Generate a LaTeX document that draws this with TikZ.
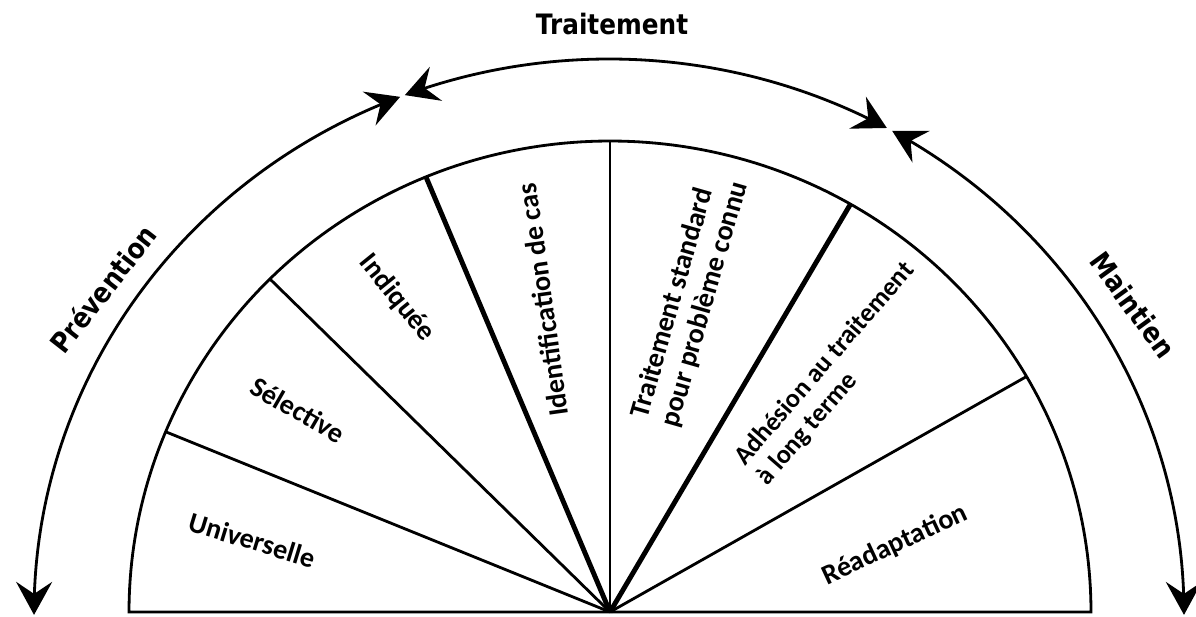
\documentclass[tikz,border=0pt]{standalone}
\usepackage{fontspec}
\usetikzlibrary{arrows.meta}
\newfontfamily\innerfont{Carlito}
\newfontfamily\outerfont{DejaVu Sans}[FakeStretch=0.88]
\begin{document}
\begin{tikzpicture}[x=0.02cm,y=0.02cm,
  thinline/.style={line width=1.6pt},
  thickline/.style={line width=2.8pt},
  arcline/.style={line width=1.6pt},
  bothtips/.style={{Stealth[length=0.66cm,width=0.72cm,inset=0.24cm]}-{Stealth[length=0.66cm,width=0.72cm,inset=0.24cm]}},
  lab/.style={font=\innerfont\bfseries\fontsize{16}{18}\selectfont, inner sep=0pt},
  olab/.style={font=\outerfont\bfseries\fontsize{16}{18}\selectfont, inner sep=0pt}]
\useasboundingbox (0,0) rectangle (1196,617);
% inner half ellipse
\coordinate (O) at (610,5);
\draw[thinline, line join=miter] plot[domain=0:180, samples=180, variable=\t] ({610+481*cos(\t)},{5+471*sin(\t)}) -- cycle;
% spokes
\coordinate (s1) at ({610+481*cos(157.5)},{5+471*sin(157.5)});
\coordinate (s2) at ({610+481*cos(135)},{5+471*sin(135)});
\coordinate (s3) at ({610+481*cos(112.5)},{5+471*sin(112.5)});
\coordinate (s4) at ({610+481*cos(90)},{5+471*sin(90)});
\coordinate (s5) at ({610+481*cos(60)},{5+471*sin(60)});
\coordinate (s6) at ({610+481*cos(30)},{5+471*sin(30)});
\draw[thinline] (O) -- (s1);
\draw[thinline] (O) -- (s2);
\draw[thickline] (O) -- (s3);
\draw[thinline] (O) -- (s4);
\draw[thickline] (O) -- (s5);
\draw[thinline] (O) -- (s6);
% outer arcs
\draw[arcline, bothtips] plot[domain=111.3:180.2, samples=120, variable=\t] ({609+575*cos(\t)},{4+554*sin(\t)});
\draw[arcline, bothtips] plot[domain=110.8:61.1, samples=120, variable=\t] ({609+575*cos(\t)},{4+554*sin(\t)});
\draw[arcline, bothtips] plot[domain=60.5:-0.2, samples=120, variable=\t] ({609+575*cos(\t)},{4+554*sin(\t)});
% inner labels
\node[lab, rotate=-17] (univ) at (252,77) {Universelle};
\node[lab, rotate=-30] (sel) at (298,207) {Sélective};
\node[lab, rotate=-51] (ind) at (397,319) {Indiquée};
\node[lab, rotate=98] (ident) at (543,317) {Identification de cas};
\node[lab, rotate=74, align=left] (trstd) at (690,317) {Traitement standard\\pour problème connu};
\node[lab, font=\innerfont\bfseries\fontsize{15}{17}\selectfont, rotate=49, align=left] (adh) at (836,243) {Adhésion au traitement\\à long terme};
\node[lab, rotate=25] (read) at (895,72) {Réadaptation};
% outer labels
\node[olab] (trait) at (612,593) {Traitement};
\node[olab, rotate=52] (prev) at (103,328) {Prévention};
\node[olab, rotate=-54] (maint) at (1133,312) {Maintien};
\end{tikzpicture}
\end{document}
